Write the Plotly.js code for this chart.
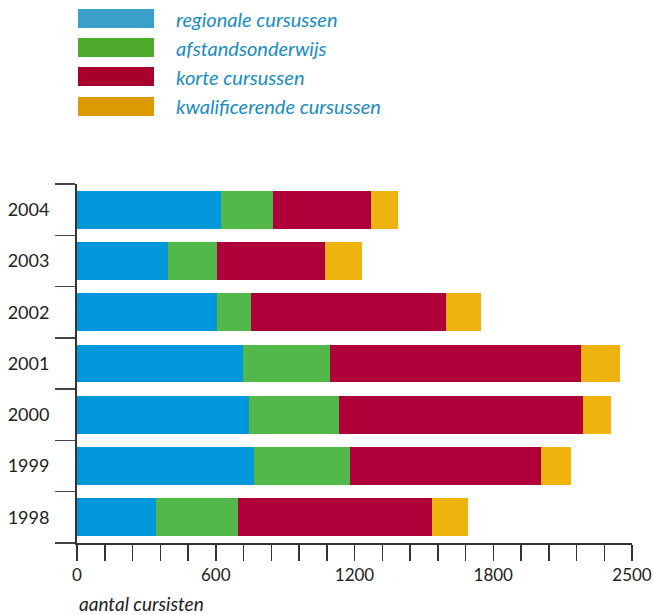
<!DOCTYPE html>
<html>
<head>
<meta charset="utf-8">
<script src="https://cdn.plot.ly/plotly-3.0.1.min.js"></script>
<style>
  html, body { margin: 0; padding: 0; background: #ffffff; }
  #chart { width: 654px; height: 615px; }
</style>
</head>
<body>
<div id="chart"></div>
<script>
// ---- data ----
var years = ["1998", "1999", "2000", "2001", "2002", "2003", "2004"];
var seriesNames = ["regionale cursussen", "afstandsonderwijs", "korte cursussen", "kwalificerende cursussen"];
var regionale      = [340, 766, 744, 719, 605, 394, 623];
var afstand        = [357, 414, 389, 375, 148, 211, 225];
var korte          = [838, 825, 1054, 1084, 841, 467, 422];
var kwalificerende = [155, 130, 121, 168, 152, 160, 117];
var xTickVals = [0, 600, 1200, 1800, 2400];
var xTickText = ["0", "600", "1200", "1800", "2500"];
var xAxisLabel = "aantal cursisten";

// ---- styles ----
var barColors = ["#0097db", "#52b84a", "#b00039", "#efb30f"];
var legendColors = ["#3aa0ca", "#4fab2b", "#a8002a", "#dc9a00"];
var seriesValues = [regionale, afstand, korte, kwalificerende];

var traces = seriesValues.map(function (vals, i) {
  return {
    type: "bar",
    orientation: "h",
    y: years,
    x: vals,
    name: seriesNames[i],
    marker: { color: barColors[i], line: { width: 0 } },
    hoverinfo: "x+name"
  };
});

// custom legend (swatches + labels)
var shapes = [];
var annotations = [];
var legendTop = [9, 38, 67, 97]; // px from top of page
var H = 615, mT = 184, mB = 72, plotH = H - mT - mB;
var W = 654, mL = 77, mR = 22, plotW = W - mL - mR;
function py(px) { return (H - mB - px) / plotH; }
function pxX(px) { return (px - mL) / plotW; }
for (var i = 0; i < seriesNames.length; i++) {
  shapes.push({
    type: "rect", xref: "paper", yref: "paper",
    x0: pxX(78), x1: pxX(154),
    y0: py(legendTop[i] + 19), y1: py(legendTop[i]),
    fillcolor: legendColors[i], line: { width: 0 }
  });
  annotations.push({
    xref: "paper", yref: "paper",
    x: pxX(174), y: py(legendTop[i] + 9.5),
    xanchor: "left", yanchor: "middle",
    text: "<i>" + seriesNames[i] + "</i>",
    showarrow: false,
    font: { family: "Lato, 'Open Sans', sans-serif", size: 20, color: "#1a8cc4" }
  });
}
annotations.push({
  xref: "paper", yref: "paper",
  x: 0, y: py(603),
  xanchor: "left", yanchor: "middle",
  text: "<i>" + xAxisLabel + "</i>",
  showarrow: false,
  font: { family: "Lato, 'Open Sans', sans-serif", size: 19, color: "#222222" }
});

var layout = {
  width: W, height: H,
  margin: { l: mL, r: mR, t: mT, b: mB, pad: 0 },
  paper_bgcolor: "#ffffff",
  plot_bgcolor: "#ffffff",
  barmode: "stack",
  bargap: 0.26,
  showlegend: false,
  font: { family: "Lato, 'Open Sans', sans-serif", color: "#222222" },
  xaxis: {
    range: [0, 2400],
    tickmode: "array",
    tickvals: xTickVals,
    ticktext: xTickText,
    ticks: "outside",
    ticklen: 16,
    tickwidth: 1.5,
    tickcolor: "#333333",
    minor: { dtick: 120, ticks: "outside", ticklen: 16, tickwidth: 1.5, tickcolor: "#333333", showgrid: false },
    showline: true,
    linecolor: "#333333",
    linewidth: 1.5,
    showgrid: false,
    zeroline: false,
    tickfont: { size: 17, color: "#222222" },
    fixedrange: true
  },
  yaxis: {
    type: "category",
    categoryorder: "array",
    categoryarray: years,
    tickson: "boundaries",
    ticks: "outside",
    ticklen: 20,
    tickwidth: 1.5,
    tickcolor: "#444444",
    showline: true,
    linecolor: "#333333",
    linewidth: 2,
    showgrid: false,
    zeroline: false,
    tickfont: { size: 18, color: "#222222" },
    ticklabelstandoff: 22,
    fixedrange: true
  },
  shapes: shapes,
  annotations: annotations
};

Plotly.newPlot("chart", traces, layout, { displayModeBar: false, staticPlot: true });
</script>
</body>
</html>
